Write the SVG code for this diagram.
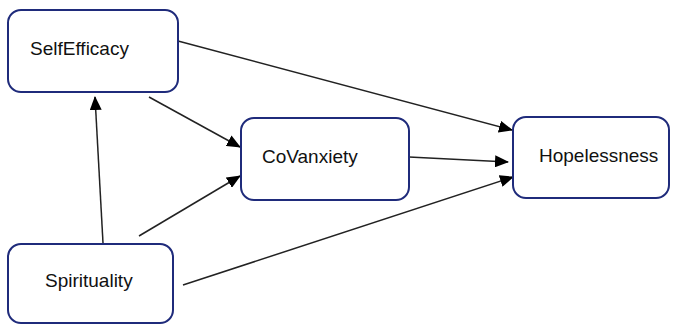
<svg xmlns="http://www.w3.org/2000/svg" width="680" height="324" viewBox="0 0 680 324">
<defs>
<style>
.box{fill:#fff;stroke:#1f2b7b;stroke-width:2}
.lbl{font-family:"Liberation Sans",Arial,sans-serif;font-size:19px;fill:#111}
.edge{stroke:#222;stroke-width:1.5;fill:none;marker-end:url(#ah)}
</style>
<marker id="ah" markerUnits="userSpaceOnUse" markerWidth="14" markerHeight="12" viewBox="0 0 14 12" refX="13" refY="6" orient="auto">
<path d="M0,0 L14,6 L0,12 Z" fill="#000"/>
</marker>
</defs>
<rect width="680" height="324" fill="#fff"/>
<g id="connectors">
<line class="edge" x1="178" y1="41" x2="512" y2="130"/>
<line class="edge" x1="149" y1="97" x2="240" y2="147"/>
<line class="edge" x1="103" y1="243" x2="95" y2="97"/>
<line class="edge" x1="139" y1="236" x2="240" y2="176"/>
<line class="edge" x1="409" y1="157" x2="508" y2="162"/>
<line class="edge" x1="183" y1="285" x2="513" y2="177"/>
</g>
<g id="SelfEfficacy">
<rect class="box" x="8" y="10" width="170" height="82" rx="13"/>
<text class="lbl" x="30" y="55">SelfEfficacy</text>
</g>
<g id="CoVanxiety">
<rect class="box" x="241" y="118" width="168" height="82" rx="13"/>
<text class="lbl" x="262" y="163">CoVanxiety</text>
</g>
<g id="Hopelessness">
<rect class="box" x="513" y="117" width="156" height="81" rx="13"/>
<text class="lbl" x="539" y="162">Hopelessness</text>
</g>
<g id="Spirituality">
<rect class="box" x="8" y="244" width="165" height="79" rx="13"/>
<text class="lbl" x="45" y="287">Spirituality</text>
</g>
</svg>
